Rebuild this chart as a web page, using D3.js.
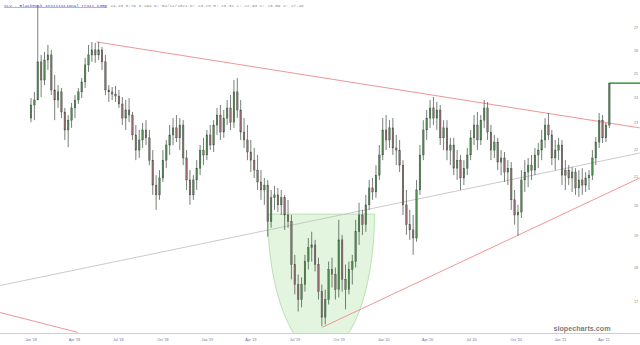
<!DOCTYPE html>
<html>
<head>
<meta charset="utf-8">
<script src="https://cdn.jsdelivr.net/npm/d3@7/dist/d3.min.js"></script>
<style>
  html, body { margin: 0; padding: 0; background: #fff; }
  svg { display: block; }
</style>
</head>
<body>
<div id="chart"></div>
<script>
// weekly OHLC, first bar on the Monday below, one bar per week
var START = "2018-01-01";
var opens = [
  23.19, 23.71, 23.91, 25.50, 24.73, 25.58, 25.80, 24.32, 23.91, 24.24,
  23.43, 22.73, 23.11, 23.59, 23.91, 24.24, 24.65, 25.37, 25.80, 26.02,
  25.80, 26.02, 25.50, 24.32, 24.24, 24.15, 24.07, 23.75, 23.19, 23.51,
  23.31, 22.54, 21.97, 22.35, 22.73, 22.43, 21.60, 20.71, 20.37, 20.96,
  21.60, 22.16, 22.54, 22.81, 22.43, 22.92, 21.68, 20.89, 20.37, 20.89,
  21.31, 21.97, 21.79, 22.54, 22.16, 22.92, 23.31, 22.65, 23.19, 23.59,
  23.03, 24.24, 23.51, 22.65, 22.35, 21.90, 21.60, 21.24, 20.82, 20.54,
  20.71, 19.47, 20.27, 20.37, 20.03, 20.27, 19.69, 19.47, 18.11, 17.51,
  17.07, 17.51, 18.20, 18.63, 18.72, 18.11, 17.30, 16.57, 17.07, 17.96,
  17.81, 17.36, 18.88, 17.66, 17.36, 17.96, 18.20, 19.14, 19.69, 19.37,
  20.03, 20.61, 20.47, 21.06, 21.79, 22.73, 22.35, 22.81, 22.05, 21.97,
  21.42, 20.03, 19.37, 19.20, 18.94, 20.54, 21.79, 22.73, 23.19, 23.59,
  23.19, 23.51, 22.43, 22.81, 21.97, 22.16, 21.31, 21.60, 20.96, 21.31,
  21.79, 22.43, 22.92, 22.35, 23.11, 23.59, 22.65, 21.97, 22.27, 21.53,
  21.68, 21.17, 21.31, 20.20, 19.69, 19.79, 20.89, 21.17, 21.42, 21.24,
  21.79, 21.97, 22.35, 22.92, 22.54, 21.68, 21.97, 22.16, 21.06, 21.24,
  20.96, 21.17, 20.61, 20.89, 20.71, 20.96, 21.06, 21.68, 22.27, 23.11,
  22.43, 22.92
];
var highs = [
  23.99, 24.24, 28.07, 25.80, 25.93, 26.24, 26.02, 24.94, 24.52, 24.40,
  23.59, 23.31, 23.79, 24.11, 24.40, 24.81, 25.67, 26.24, 26.37, 26.33,
  26.37, 26.15, 25.80, 24.52, 24.44, 24.48, 24.32, 24.03, 23.91, 23.99,
  23.43, 22.92, 22.73, 23.00, 23.11, 22.73, 21.97, 21.06, 21.24, 21.97,
  22.35, 22.92, 23.19, 23.31, 23.19, 23.11, 21.97, 21.24, 21.06, 21.60,
  22.16, 22.43, 22.73, 22.92, 23.11, 23.59, 23.71, 23.51, 23.91, 24.11,
  24.73, 24.81, 23.91, 23.19, 22.92, 22.35, 22.05, 21.79, 21.24, 20.96,
  20.89, 20.54, 20.68, 20.61, 20.54, 20.37, 20.20, 19.69, 18.41, 17.81,
  17.72, 18.41, 18.94, 19.14, 18.88, 18.32, 17.51, 17.36, 18.20, 18.32,
  18.02, 19.53, 19.04, 18.11, 18.20, 18.41, 19.53, 20.10, 19.86, 20.37,
  20.89, 20.96, 21.42, 22.16, 23.19, 23.31, 23.11, 23.19, 22.54, 22.35,
  21.60, 20.54, 19.86, 19.69, 20.89, 22.16, 23.11, 23.51, 23.91, 24.03,
  23.83, 23.71, 23.11, 23.11, 22.43, 22.43, 21.97, 21.79, 21.60, 22.05,
  22.73, 23.31, 23.43, 23.31, 23.91, 23.83, 22.92, 22.54, 22.43, 21.97,
  21.90, 21.60, 21.53, 20.54, 20.03, 21.24, 21.60, 21.68, 21.79, 22.05,
  22.24, 22.73, 23.19, 23.39, 22.73, 22.35, 22.43, 22.35, 21.60, 21.42,
  21.35, 21.31, 21.24, 21.31, 21.17, 21.24, 21.97, 22.46, 23.39, 23.31,
  23.00, 24.62
];
var lows = [
  23.03, 23.11, 23.91, 24.03, 24.52, 25.15, 24.11, 23.11, 23.59, 23.19,
  22.35, 22.08, 22.81, 23.19, 23.75, 23.99, 24.40, 25.07, 25.50, 25.46,
  25.58, 25.15, 24.11, 23.83, 23.91, 23.83, 23.59, 22.92, 22.73, 23.03,
  22.35, 21.60, 21.68, 22.05, 22.16, 21.42, 20.37, 19.86, 20.20, 20.82,
  21.31, 21.79, 22.16, 22.27, 21.97, 21.42, 20.54, 20.03, 20.20, 20.54,
  21.06, 21.42, 21.60, 21.97, 21.90, 22.54, 22.35, 22.43, 22.92, 22.73,
  22.81, 23.19, 22.35, 22.05, 21.60, 21.17, 20.96, 20.54, 20.20, 20.03,
  18.98, 19.27, 19.86, 19.79, 19.69, 19.20, 19.27, 17.66, 17.22, 16.73,
  16.85, 17.30, 17.96, 18.20, 17.90, 17.07, 16.32, 16.37, 16.93, 17.42,
  17.07, 17.13, 17.30, 16.79, 17.22, 17.51, 18.02, 18.72, 19.04, 19.14,
  19.86, 20.20, 20.27, 20.89, 21.60, 21.97, 22.05, 21.79, 21.42, 21.17,
  19.69, 19.04, 18.88, 18.41, 18.82, 20.37, 21.60, 22.35, 22.81, 22.92,
  22.73, 22.16, 21.97, 21.60, 21.42, 21.06, 20.89, 20.54, 20.71, 21.06,
  21.60, 22.16, 21.97, 22.16, 22.81, 22.35, 21.60, 21.68, 21.24, 21.06,
  20.82, 20.71, 19.86, 19.37, 19.01, 19.59, 20.47, 20.64, 20.89, 21.06,
  21.31, 21.60, 22.05, 22.35, 21.42, 21.24, 21.60, 20.71, 20.54, 20.71,
  20.47, 20.37, 20.30, 20.37, 20.47, 20.54, 20.89, 21.42, 22.05, 22.24,
  22.27, 22.81
];
var closes = [
  23.71, 23.91, 25.50, 24.73, 25.58, 25.80, 24.32, 23.91, 24.24, 23.43,
  22.73, 23.11, 23.59, 23.91, 24.24, 24.65, 25.37, 25.80, 26.02, 25.80,
  26.02, 25.50, 24.32, 24.24, 24.15, 24.07, 23.75, 23.19, 23.51, 23.31,
  22.54, 21.97, 22.35, 22.73, 22.43, 21.60, 20.71, 20.37, 20.96, 21.60,
  22.16, 22.54, 22.81, 22.43, 22.92, 21.68, 20.89, 20.37, 20.89, 21.31,
  21.97, 21.79, 22.54, 22.16, 22.92, 23.31, 22.65, 23.19, 23.59, 23.03,
  24.24, 23.51, 22.65, 22.35, 21.90, 21.60, 21.24, 20.82, 20.54, 20.71,
  19.47, 20.27, 20.37, 20.03, 20.27, 19.69, 19.47, 18.11, 17.51, 17.07,
  17.51, 18.20, 18.63, 18.72, 18.11, 17.30, 16.57, 17.07, 17.96, 17.81,
  17.36, 18.88, 17.66, 17.36, 17.96, 18.20, 19.14, 19.69, 19.37, 20.03,
  20.61, 20.47, 21.06, 21.79, 22.73, 22.35, 22.81, 22.05, 21.97, 21.42,
  20.03, 19.37, 19.20, 18.94, 20.54, 21.79, 22.73, 23.19, 23.59, 23.19,
  23.51, 22.43, 22.81, 21.97, 22.16, 21.31, 21.60, 20.96, 21.31, 21.79,
  22.43, 22.92, 22.35, 23.11, 23.59, 22.65, 21.97, 22.27, 21.53, 21.68,
  21.17, 21.31, 20.20, 19.69, 19.79, 20.89, 21.17, 21.42, 21.24, 21.79,
  21.97, 22.35, 22.92, 22.54, 21.68, 21.97, 22.16, 21.06, 21.24, 20.96,
  21.17, 20.61, 20.89, 20.71, 20.96, 21.06, 21.68, 22.27, 23.11, 22.43,
  22.92, 24.60
];

var priceTicks = [17, 18, 19, 20, 21, 22, 23, 24, 25, 26, 27];

// drawn lines, as [date, price] end points
var redLines = [
  [["2018-05-17", 26.37], ["2021-06-14", 22.81]],
  [["2017-10-29", 16.70], ["2018-04-08", 16.15]],
  [["2019-08-27", 16.29], ["2021-06-14", 20.96]]
];
var greyLine = [["2017-10-29", 17.48], ["2021-06-14", 21.86]];
// cup: left and right rim dates, rim price, bottom price
var cup = { left: "2019-05-06", right: "2019-12-13", rim: 19.72, bottom: 15.6 };

var title = "SLV - BlackRock Institutional Trust Comp";
var quote = "24.43 0.79 3.29% D: 04/12/2021 O: 23.28 H: 23.32 L: 22.93 C: 23.09 V: 27.48";

var W = 640, H = 345, axisY = 333;
var parse = d3.timeParse("%Y-%m-%d");
var t0 = parse(START);
var bars = closes.map(function (c, i) {
  return { d: d3.timeDay.offset(t0, 7 * i), o: opens[i], h: highs[i], l: lows[i], c: c };
});

var x = d3.scaleTime().domain([parse("2018-01-01"), parse("2021-04-01")]).range([31, 604]);
var y = d3.scaleLog().domain([17, 27]).range([302, 28]);

var svg = d3.select("#chart").append("svg").attr("width", W).attr("height", H)
  .style("font-family", "'Liberation Sans', Arial, sans-serif");
svg.append("defs").append("clipPath").attr("id", "plot")
  .append("rect").attr("x", 0).attr("y", 0).attr("width", W).attr("height", axisY);
var g = svg.append("g").attr("clip-path", "url(#plot)");

// cup shading
var cx1 = x(parse(cup.left)), cx2 = x(parse(cup.right)), cyTop = y(cup.rim), cyBot = y(cup.bottom);
g.append("path")
  .attr("d", "M" + cx1 + "," + cyTop + " A" + ((cx2 - cx1) / 2) + "," + (cyBot - cyTop) + " 0 0 0 " + cx2 + "," + cyTop + " Z")
  .attr("fill", "#dcf2d6").attr("fill-opacity", 0.8).attr("stroke", "#a9dca4").attr("stroke-width", 0.8);

// trend lines
var seg = d3.line().x(function (p) { return x(parse(p[0])); }).y(function (p) { return y(p[1]); });
g.append("path").attr("d", seg(greyLine)).attr("fill", "none").attr("stroke", "#c4c4c4").attr("stroke-width", 0.9);
redLines.forEach(function (l) {
  g.append("path").attr("d", seg(l)).attr("fill", "none").attr("stroke", "#ec8a8a").attr("stroke-width", 0.9);
});

// candles
var bw = 1.6;
var cg = g.append("g");
bars.forEach(function (b) {
  var cxp = x(b.d), up = b.c >= b.o;
  cg.append("line").attr("x1", cxp).attr("x2", cxp).attr("y1", y(b.h)).attr("y2", y(b.l))
    .attr("stroke", "#3a4a3e").attr("stroke-width", 0.7);
  var top = y(Math.max(b.o, b.c)), bot = y(Math.min(b.o, b.c));
  cg.append("rect").attr("x", cxp - bw / 2).attr("y", top).attr("width", bw)
    .attr("height", Math.max(0.8, bot - top))
    .attr("fill", up ? "#4f8a4f" : "#946a70").attr("stroke", "#3a4a3e").attr("stroke-width", 0.35);
});

// last price marker
var last = bars[bars.length - 1];
g.append("line").attr("x1", x(last.d)).attr("x2", W).attr("y1", y(last.c)).attr("y2", y(last.c))
  .attr("stroke", "#2e8b2e").attr("stroke-width", 1.4);

// x axis
svg.append("line").attr("x1", 0).attr("x2", W).attr("y1", axisY + 0.5).attr("y2", axisY + 0.5)
  .attr("stroke", "#cfcfcf").attr("stroke-width", 1);
var fmt = d3.timeFormat("%b '%y");
x.ticks(d3.timeMonth.every(3)).forEach(function (t) {
  svg.append("text").attr("x", x(t)).attr("y", 340.5).attr("text-anchor", "middle")
    .attr("font-size", 3.6).attr("fill", "#6a6aa8").text(fmt(t));
});

// price labels
priceTicks.forEach(function (v) {
  svg.append("text").attr("x", 636).attr("y", y(v) + 1.3).attr("text-anchor", "middle")
    .attr("font-size", 3.8).attr("fill", "#888").text(v);
});

// header
var hd = svg.append("text").attr("x", 4).attr("y", 6.5).attr("font-size", 4.3)
  .attr("font-family", "'Liberation Mono', 'DejaVu Sans Mono', monospace");
hd.append("tspan").attr("fill", "#4b4bbf").attr("text-decoration", "underline").text(title);
hd.append("tspan").attr("fill", "#8a8a8a").attr("dx", 3).text(quote);

// watermark
svg.append("text").attr("x", 582).attr("y", 331).attr("text-anchor", "middle")
  .attr("font-size", 7.2).attr("font-weight", "bold").attr("fill", "#7d7d7d").text("slopecharts.com");
</script>
</body>
</html>
